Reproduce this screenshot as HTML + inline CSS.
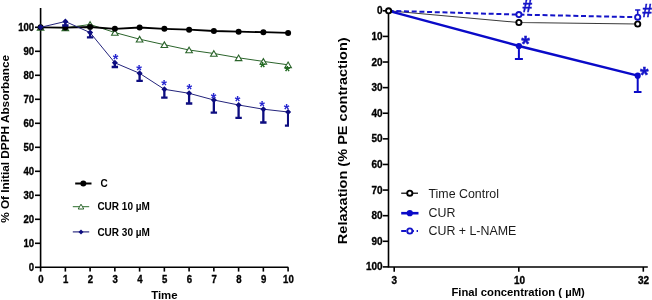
<!DOCTYPE html>
<html><head><meta charset="utf-8"><style>
html,body{margin:0;padding:0;background:#fff;}
svg{display:block;will-change:transform;}
text{font-family:"Liberation Sans",sans-serif;}
</style></head><body>
<svg width="652" height="300" viewBox="0 0 652 300">
<rect width="652" height="300" fill="#fff"/>
<g stroke="#000" stroke-width="1.6" fill="none">
<path d="M40.6,8 V267.3 H288.3"/>
<path d="M35,267.30 H40.6"/>
<path d="M35,243.30 H40.6"/>
<path d="M35,219.30 H40.6"/>
<path d="M35,195.30 H40.6"/>
<path d="M35,171.30 H40.6"/>
<path d="M35,147.30 H40.6"/>
<path d="M35,123.30 H40.6"/>
<path d="M35,99.30 H40.6"/>
<path d="M35,75.30 H40.6"/>
<path d="M35,51.30 H40.6"/>
<path d="M35,27.30 H40.6"/>
<path d="M40.60,267.3 V271.6"/>
<path d="M65.35,267.3 V271.6"/>
<path d="M90.10,267.3 V271.6"/>
<path d="M114.85,267.3 V271.6"/>
<path d="M139.60,267.3 V271.6"/>
<path d="M164.35,267.3 V271.6"/>
<path d="M189.10,267.3 V271.6"/>
<path d="M213.85,267.3 V271.6"/>
<path d="M238.60,267.3 V271.6"/>
<path d="M263.35,267.3 V271.6"/>
<path d="M288.10,267.3 V271.6"/>
</g>
<g font-family="Liberation Sans" font-weight="bold" font-size="9.6" fill="#000" stroke="#000" stroke-width="0.3" text-anchor="end">
<text transform="translate(34.2,271.16) scale(1,1.15)">0</text>
<text transform="translate(34.2,247.16) scale(1,1.15)">10</text>
<text transform="translate(34.2,223.16) scale(1,1.15)">20</text>
<text transform="translate(34.2,199.16) scale(1,1.15)">30</text>
<text transform="translate(34.2,175.16) scale(1,1.15)">40</text>
<text transform="translate(34.2,151.16) scale(1,1.15)">50</text>
<text transform="translate(34.2,127.16) scale(1,1.15)">60</text>
<text transform="translate(34.2,103.16) scale(1,1.15)">70</text>
<text transform="translate(34.2,79.16) scale(1,1.15)">80</text>
<text transform="translate(34.2,55.16) scale(1,1.15)">90</text>
<text transform="translate(34.2,31.16) scale(1,1.15)">100</text>
</g>
<g font-family="Liberation Sans" font-weight="bold" font-size="9.6" fill="#000" stroke="#000" stroke-width="0.3" text-anchor="middle">
<text transform="translate(40.90,283.4) scale(1,1.15)">0</text>
<text transform="translate(65.65,283.4) scale(1,1.15)">1</text>
<text transform="translate(90.40,283.4) scale(1,1.15)">2</text>
<text transform="translate(115.15,283.4) scale(1,1.15)">3</text>
<text transform="translate(139.90,283.4) scale(1,1.15)">4</text>
<text transform="translate(164.65,283.4) scale(1,1.15)">5</text>
<text transform="translate(189.40,283.4) scale(1,1.15)">6</text>
<text transform="translate(214.15,283.4) scale(1,1.15)">7</text>
<text transform="translate(238.90,283.4) scale(1,1.15)">8</text>
<text transform="translate(263.65,283.4) scale(1,1.15)">9</text>
<text transform="translate(288.40,283.4) scale(1,1.15)">10</text>
</g>
<text x="164.4" y="299.3" font-family="Liberation Sans" font-weight="bold" font-size="11.4" text-anchor="middle">Time</text>
<text transform="translate(9.3,138.9) rotate(-90) scale(1.18,1)" font-family="Liberation Sans" font-weight="bold" font-size="10" text-anchor="middle">% Of Initial DPPH Absorbance</text>
<polyline points="40.60,27.30 65.35,27.80 90.10,24.50 114.85,32.50 139.60,39.20 164.35,44.70 189.10,50.00 213.85,53.50 238.60,57.80 263.35,61.40 288.10,64.80" fill="none" stroke="#2b642b" stroke-width="1"/>
<path d="M40.60,24.50 L43.90,30.10 L37.30,30.10 Z" fill="#fff" stroke="#2b642b" stroke-width="1.1"/>
<path d="M65.35,25.00 L68.65,30.60 L62.05,30.60 Z" fill="#fff" stroke="#2b642b" stroke-width="1.1"/>
<path d="M90.10,21.70 L93.40,27.30 L86.80,27.30 Z" fill="#fff" stroke="#2b642b" stroke-width="1.1"/>
<path d="M114.85,29.70 L118.15,35.30 L111.55,35.30 Z" fill="#fff" stroke="#2b642b" stroke-width="1.1"/>
<path d="M139.60,36.40 L142.90,42.00 L136.30,42.00 Z" fill="#fff" stroke="#2b642b" stroke-width="1.1"/>
<path d="M164.35,41.90 L167.65,47.50 L161.05,47.50 Z" fill="#fff" stroke="#2b642b" stroke-width="1.1"/>
<path d="M189.10,47.20 L192.40,52.80 L185.80,52.80 Z" fill="#fff" stroke="#2b642b" stroke-width="1.1"/>
<path d="M213.85,50.70 L217.15,56.30 L210.55,56.30 Z" fill="#fff" stroke="#2b642b" stroke-width="1.1"/>
<path d="M238.60,55.00 L241.90,60.60 L235.30,60.60 Z" fill="#fff" stroke="#2b642b" stroke-width="1.1"/>
<path d="M263.35,58.60 L266.65,64.20 L260.05,64.20 Z" fill="#fff" stroke="#2b642b" stroke-width="1.1"/>
<path d="M288.10,62.00 L291.40,67.60 L284.80,67.60 Z" fill="#fff" stroke="#2b642b" stroke-width="1.1"/>
<polyline points="40.60,27.30 65.35,27.60 90.10,27.00 114.85,28.80 139.60,27.50 164.35,28.80 189.10,29.70 213.85,31.00 238.60,31.70 263.35,32.20 288.10,32.90" fill="none" stroke="#000" stroke-width="1.8"/>
<circle cx="40.60" cy="27.30" r="3" fill="#000"/>
<circle cx="65.35" cy="27.60" r="3" fill="#000"/>
<circle cx="90.10" cy="27.00" r="3" fill="#000"/>
<circle cx="114.85" cy="28.80" r="3" fill="#000"/>
<circle cx="139.60" cy="27.50" r="3" fill="#000"/>
<circle cx="164.35" cy="28.80" r="3" fill="#000"/>
<circle cx="189.10" cy="29.70" r="3" fill="#000"/>
<circle cx="213.85" cy="31.00" r="3" fill="#000"/>
<circle cx="238.60" cy="31.70" r="3" fill="#000"/>
<circle cx="263.35" cy="32.20" r="3" fill="#000"/>
<circle cx="288.10" cy="32.90" r="3" fill="#000"/>
<polyline points="40.60,27.30 65.35,21.50 90.10,32.60 114.85,62.80 139.60,73.30 164.35,89.30 189.10,93.30 213.85,100.00 238.60,105.00 263.35,109.20 288.10,112.00" fill="none" stroke="#24247c" stroke-width="1"/>
<defs><clipPath id="pa"><rect x="0" y="0" width="289" height="300"/></clipPath></defs>
<g clip-path="url(#pa)">
<path d="M65.35,21.50 V25.50 M62.15,25.50 H68.55" stroke="#0d0d80" stroke-width="2.3" fill="none"/>
<path d="M90.10,32.60 V37.30 M86.90,37.30 H93.30" stroke="#0d0d80" stroke-width="2.3" fill="none"/>
<path d="M114.85,62.80 V67.00 M111.65,67.00 H118.05" stroke="#0d0d80" stroke-width="2.3" fill="none"/>
<path d="M139.60,73.30 V80.80 M136.40,80.80 H142.80" stroke="#0d0d80" stroke-width="2.3" fill="none"/>
<path d="M164.35,89.30 V97.60 M161.15,97.60 H167.55" stroke="#0d0d80" stroke-width="2.3" fill="none"/>
<path d="M189.10,93.30 V103.50 M185.90,103.50 H192.30" stroke="#0d0d80" stroke-width="2.3" fill="none"/>
<path d="M213.85,100.00 V112.70 M210.65,112.70 H217.05" stroke="#0d0d80" stroke-width="2.3" fill="none"/>
<path d="M238.60,105.00 V117.90 M235.40,117.90 H241.80" stroke="#0d0d80" stroke-width="2.3" fill="none"/>
<path d="M263.35,109.20 V122.50 M260.15,122.50 H266.55" stroke="#0d0d80" stroke-width="2.3" fill="none"/>
<path d="M288.10,112.00 V125.60 M284.90,125.60 H291.30" stroke="#0d0d80" stroke-width="2.3" fill="none"/>
</g>
<path d="M40.60,24.30 L43.60,27.30 L40.60,30.30 L37.60,27.30 Z" fill="#0d0d80"/>
<path d="M65.35,18.50 L68.35,21.50 L65.35,24.50 L62.35,21.50 Z" fill="#0d0d80"/>
<path d="M90.10,29.60 L93.10,32.60 L90.10,35.60 L87.10,32.60 Z" fill="#0d0d80"/>
<path d="M114.85,59.80 L117.85,62.80 L114.85,65.80 L111.85,62.80 Z" fill="#0d0d80"/>
<path d="M139.60,70.30 L142.60,73.30 L139.60,76.30 L136.60,73.30 Z" fill="#0d0d80"/>
<path d="M164.35,86.30 L167.35,89.30 L164.35,92.30 L161.35,89.30 Z" fill="#0d0d80"/>
<path d="M189.10,90.30 L192.10,93.30 L189.10,96.30 L186.10,93.30 Z" fill="#0d0d80"/>
<path d="M213.85,97.00 L216.85,100.00 L213.85,103.00 L210.85,100.00 Z" fill="#0d0d80"/>
<path d="M238.60,102.00 L241.60,105.00 L238.60,108.00 L235.60,105.00 Z" fill="#0d0d80"/>
<path d="M263.35,106.20 L266.35,109.20 L263.35,112.20 L260.35,109.20 Z" fill="#0d0d80"/>
<path d="M288.10,109.00 L291.10,112.00 L288.10,115.00 L285.10,112.00 Z" fill="#0d0d80"/>
<g font-family="Liberation Sans" font-weight="bold" font-size="14.5" fill="#2727d0" text-anchor="middle">
<text x="115.50" y="64.19">*</text>
<text x="139.20" y="74.89">*</text>
<text x="164.00" y="90.09">*</text>
<text x="189.40" y="94.39">*</text>
<text x="213.60" y="102.69">*</text>
<text x="237.50" y="106.19">*</text>
<text x="262.00" y="110.59">*</text>
<text x="286.70" y="113.69">*</text>
</g>
<g font-family="Liberation Sans" font-weight="bold" font-size="14.5" fill="#1f6a1f" text-anchor="middle">
<text x="262.55" y="72.39">*</text>
<text x="287.30" y="75.89">*</text>
</g>
<path d="M75.2,183.5 H91.5" stroke="#000" stroke-width="2"/><circle cx="83.3" cy="183.5" r="3" fill="#000"/>
<path d="M72.8,206.7 H89.2" stroke="#2d6e2d" stroke-width="1"/><path d="M81,204.2 L83.8,209 L78.2,209 Z" fill="#fff" stroke="#2b642b" stroke-width="1"/>
<path d="M72.8,231.9 H89.2" stroke="#1c1c78" stroke-width="1.1"/><path d="M81,229.4 L83.5,231.9 L81,234.4 L78.5,231.9 Z" fill="#0d0d80"/>
<g font-family="Liberation Sans" font-weight="bold" font-size="10" fill="#000">
<text x="100.6" y="187">C</text>
<text x="97.4" y="210.3">CUR 10 µM</text>
<text x="97.4" y="235.5">CUR 30 µM</text>
</g>
<g stroke="#000" stroke-width="1.6" fill="none">
<path d="M388.5,10.8 V267 H647.8"/>
<path d="M382.8,10.80 H388.5"/>
<path d="M382.8,36.41 H388.5"/>
<path d="M382.8,62.02 H388.5"/>
<path d="M382.8,87.63 H388.5"/>
<path d="M382.8,113.24 H388.5"/>
<path d="M382.8,138.85 H388.5"/>
<path d="M382.8,164.46 H388.5"/>
<path d="M382.8,190.07 H388.5"/>
<path d="M382.8,215.68 H388.5"/>
<path d="M382.8,241.29 H388.5"/>
<path d="M382.8,266.90 H388.5"/>
<path d="M394.2,267 V271.7"/>
<path d="M518.8,267 V271.7"/>
<path d="M643.3,267 V271.7"/>
</g>
<g font-family="Liberation Sans" font-weight="bold" font-size="10" fill="#000" stroke="#000" stroke-width="0.3" text-anchor="end">
<text transform="translate(382.6,14.32) scale(1,1.15)">0</text>
<text transform="translate(382.6,39.93) scale(1,1.15)">10</text>
<text transform="translate(382.6,65.55) scale(1,1.15)">20</text>
<text transform="translate(382.6,91.16) scale(1,1.15)">30</text>
<text transform="translate(382.6,116.77) scale(1,1.15)">40</text>
<text transform="translate(382.6,142.38) scale(1,1.15)">50</text>
<text transform="translate(382.6,167.99) scale(1,1.15)">60</text>
<text transform="translate(382.6,193.59) scale(1,1.15)">70</text>
<text transform="translate(382.6,219.21) scale(1,1.15)">80</text>
<text transform="translate(382.6,244.82) scale(1,1.15)">90</text>
<text transform="translate(382.6,270.43) scale(1,1.15)">100</text>
</g>
<g font-family="Liberation Sans" font-weight="bold" font-size="10" fill="#000" stroke="#000" stroke-width="0.3" text-anchor="middle">
<text transform="translate(394.2,284) scale(1,1.15)">3</text><text transform="translate(519.6,284) scale(1,1.15)">10</text><text transform="translate(643.6,284) scale(1,1.15)">32</text>
</g>
<text x="451.4" y="296" font-family="Liberation Sans" font-weight="bold" font-size="11.25">Final concentration ( µM)</text>
<text transform="translate(346.8,140.8) rotate(-90) scale(1.212,1)" font-family="Liberation Sans" font-weight="bold" font-size="12" text-anchor="middle">Relaxation (% PE contraction)</text>
<polyline points="388.6,10.8 518.9,22.5 637.7,24.0" fill="none" stroke="#3a3a3a" stroke-width="1.1"/>
<polyline points="388.6,10.8 518.9,14.6 637.7,17.2" fill="none" stroke="#1414c8" stroke-width="2" stroke-dasharray="5 2.7"/>
<polyline points="388.6,10.8 518.9,46.0 637.7,75.7" fill="none" stroke="#0a0ac8" stroke-width="2.4"/>
<path d="M518.9,46.0 V59.1 M514.9,59.1 H522.9" stroke="#0a0ac8" stroke-width="2" fill="none"/>
<path d="M637.7,75.7 V92 M633.9000000000001,92 H641.5" stroke="#0a0ac8" stroke-width="2" fill="none"/>
<path d="M637.7,17.2 V10 M635.1,10 H640.3000000000001" stroke="#1414c8" stroke-width="1.6" fill="none"/>
<circle cx="388.6" cy="10.8" r="2.6" fill="#fff" stroke="#000" stroke-width="1.9"/>
<circle cx="518.9" cy="22.5" r="2.6" fill="#fff" stroke="#000" stroke-width="1.9"/>
<circle cx="637.7" cy="24.0" r="2.6" fill="#fff" stroke="#000" stroke-width="1.9"/>
<circle cx="518.9" cy="14.6" r="2.6" fill="#fff" stroke="#1414c8" stroke-width="1.9"/>
<circle cx="637.7" cy="17.2" r="2.6" fill="#fff" stroke="#1414c8" stroke-width="1.9"/>
<circle cx="518.9" cy="46.0" r="3.1" fill="#0a0ac8"/>
<circle cx="637.7" cy="75.7" r="3.1" fill="#0a0ac8"/>
<g font-family="Liberation Sans" font-weight="bold" fill="#1414c8" stroke="#1414c8" stroke-width="0.4">
<text x="522.5" y="12.3" font-size="17.5">#</text>
<text x="642.2" y="16.5" font-size="17.5">#</text>
<text x="525.6" y="50.92" font-size="22" text-anchor="middle">*</text>
<text x="644.4" y="81.62" font-size="22" text-anchor="middle">*</text>
</g>
<path d="M401.2,193.2 H418" stroke="#000" stroke-width="1.2"/><circle cx="409.8" cy="193.2" r="2.6" fill="#fff" stroke="#000" stroke-width="1.9"/>
<path d="M401.2,213.2 H418.5" stroke="#0a0ac8" stroke-width="2.6"/><circle cx="409.8" cy="213.2" r="3.1" fill="#0a0ac8"/>
<path d="M401.2,231 H418" stroke="#1414c8" stroke-width="2" stroke-dasharray="5 2.7"/><circle cx="409.8" cy="231" r="2.6" fill="#fff" stroke="#1414c8" stroke-width="1.9"/>
<g font-family="Liberation Sans" font-size="12.4" fill="#1a1a1a">
<text x="428.5" y="197.8">Time Control</text>
<text x="428.5" y="217.1">CUR</text>
<text x="428.5" y="235.2">CUR + L-NAME</text>
</g>
</svg>
</body></html>
